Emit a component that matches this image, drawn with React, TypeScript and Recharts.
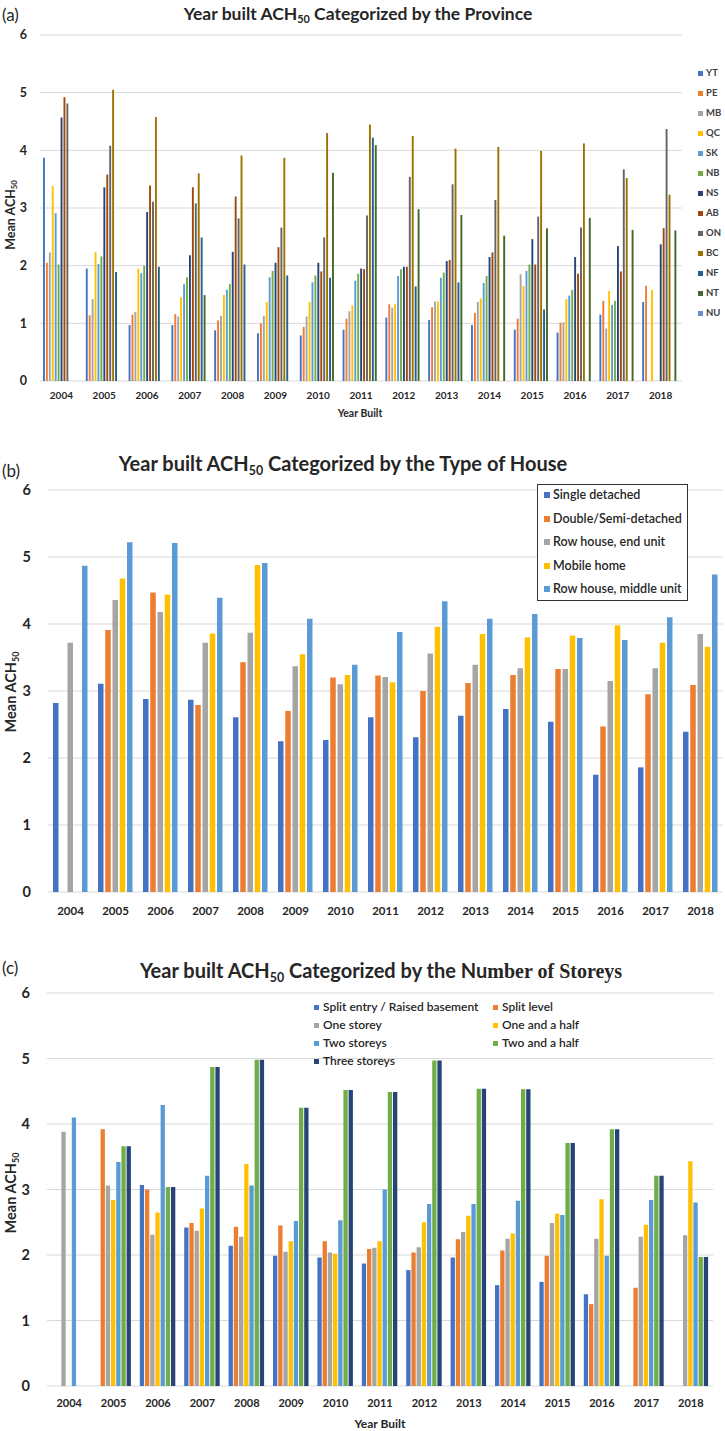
import React from "react";
import { Bar, BarChart, CartesianGrid, XAxis, YAxis } from "recharts";

// ---------- shared ----------
const years = ["2004", "2005", "2006", "2007", "2008", "2009", "2010", "2011", "2012", "2013", "2014", "2015", "2016", "2017", "2018"];
const yTicks = [0, 1, 2, 3, 4, 5, 6];

// ---------- (a) by province ----------
const YT = [3.87, 1.95, 0.97, 0.97, 0.88, 0.83, 0.79, 0.89, 1.1, 1.06, 0.97, 0.89, 0.84, 1.15, 1.37];
const PE = [2.05, 1.14, 1.15, 1.16, 1.05, 1.0, 0.94, 1.08, 1.33, 1.28, 1.18, 1.08, 1.01, 1.39, 1.65];
const MB = [2.23, 1.42, 1.2, 1.12, 1.13, 1.13, 1.12, 1.21, 1.27, 1.38, 1.37, 1.85, 1.02, 0.91, null];
const QC = [3.38, 2.24, 1.95, 1.45, 1.49, 1.37, 1.37, 1.31, 1.33, 1.38, 1.43, 1.65, 1.42, 1.56, 1.58];
const SK = [2.91, 2.03, 1.87, 1.68, 1.58, 1.8, 1.71, 1.74, 1.82, 1.79, 1.7, 1.91, 1.48, 1.32, null];
const NB = [2.02, 2.16, 2.0, 1.8, 1.68, 1.91, 1.83, 1.86, 1.94, 1.88, 1.82, 2.02, 1.58, 1.39, null];
const NS = [4.57, 3.36, 2.93, 2.18, 2.24, 2.05, 2.05, 1.95, 1.98, 2.08, 2.15, 2.46, 2.15, 2.34, 2.37];
const AB = [4.92, 3.58, 3.39, 3.36, 3.2, 2.32, 1.9, 1.94, 1.98, 2.1, 2.23, 2.02, 1.86, 1.9, 2.65];
const ON = [4.81, 4.08, 3.11, 3.08, 2.82, 2.66, 2.49, 2.87, 3.54, 3.41, 3.14, 2.85, 2.66, 3.67, 4.37];
const BC = [null, 5.05, 4.58, 3.6, 3.91, 3.87, 4.3, 4.45, 4.25, 4.03, 4.06, 3.99, 4.12, 3.52, 3.23];
const NF = [null, 1.89, 1.98, 2.49, 2.02, 1.83, 1.79, 4.22, 1.64, 1.71, null, 1.24, null, null, null];
const NT = [null, null, null, 1.49, null, null, 3.61, 4.09, 2.98, 2.88, 2.52, 2.65, 2.83, 2.62, 2.61];
const NU = [null, null, null, null, null, null, null, null, null, null, null, null, null, null, null];

const provinceNames = ["YT", "PE", "MB", "QC", "SK", "NB", "NS", "AB", "ON", "BC", "NF", "NT", "NU"];
const provinceValues = [YT, PE, MB, QC, SK, NB, NS, AB, ON, BC, NF, NT, NU];
const provinceColors = ["#4472C4", "#ED7D31", "#A5A5A5", "#FFC000", "#5B9BD5", "#70AD47", "#264478", "#9E480E", "#636363", "#997300", "#255E91", "#43682B", "#698ED0"];

// ---------- (b) by type of house ----------
const singleDetached = [2.82, 3.11, 2.88, 2.87, 2.61, 2.25, 2.27, 2.61, 2.31, 2.63, 2.73, 2.54, 1.75, 1.86, 2.39];
const doubleSemi = [null, 3.91, 4.47, 2.79, 3.43, 2.7, 3.2, 3.23, 3.0, 3.12, 3.24, 3.33, 2.47, 2.95, 3.09];
const rowEnd = [3.72, 4.36, 4.18, 3.72, 3.87, 3.37, 3.1, 3.21, 3.56, 3.39, 3.34, 3.33, 3.15, 3.34, 3.85];
const mobileHome = [null, 4.68, 4.44, 3.86, 4.88, 3.55, 3.24, 3.13, 3.96, 3.85, 3.8, 3.83, 3.98, 3.72, 3.66];
const rowMiddle = [4.87, 5.22, 5.21, 4.39, 4.91, 4.08, 3.39, 3.88, 4.34, 4.08, 4.15, 3.79, 3.76, 4.1, 4.74];

const houseNames = ["Single detached", "Double/Semi-detached", "Row house, end unit", "Mobile home", "Row house, middle unit"];
const houseValues = [singleDetached, doubleSemi, rowEnd, mobileHome, rowMiddle];
const houseColors = ["#4472C4", "#ED7D31", "#A5A5A5", "#FFC000", "#5B9BD5"];

// ---------- (c) by number of storeys ----------
const splitEntry = [null, null, 3.07, 2.42, 2.14, 1.99, 1.96, 1.87, 1.77, 1.96, 1.54, 1.59, 1.4, null, null];
const splitLevel = [null, 3.92, 3.0, 2.49, 2.43, 2.45, 2.21, 2.09, 2.04, 2.24, 2.07, 1.99, 1.25, 1.5, null];
const oneStorey = [3.88, 3.06, 2.31, 2.37, 2.28, 2.05, 2.04, 2.11, 2.12, 2.35, 2.25, 2.49, 2.25, 2.28, 2.3];
const oneAndHalf = [null, 2.84, 2.65, 2.71, 3.39, 2.21, 2.02, 2.21, 2.5, 2.6, 2.33, 2.63, 2.85, 2.46, 3.43];
const twoStoreys = [4.1, 3.42, 4.29, 3.21, 3.06, 2.52, 2.53, 3.0, 2.78, 2.78, 2.83, 2.61, 1.99, 2.84, 2.8];
const twoAndHalf = [null, 3.66, 3.04, 4.87, 4.98, 4.25, 4.52, 4.49, 4.97, 4.54, 4.53, 3.71, 3.92, 3.21, 1.97];
const threeStoreys = [null, 3.66, 3.04, 4.87, 4.98, 4.25, 4.52, 4.49, 4.97, 4.54, 4.53, 3.71, 3.92, 3.21, 1.97];

const storeyNames = ["Split entry / Raised basement", "Split level", "One storey", "One and a half", "Two storeys", "Two and a half", "Three storeys"];
const storeyValues = [splitEntry, splitLevel, oneStorey, oneAndHalf, twoStoreys, twoAndHalf, threeStoreys];
const storeyColors = ["#4472C4", "#ED7D31", "#A5A5A5", "#FFC000", "#5B9BD5", "#70AD47", "#264478"];

function toRows(names: string[], values: (number | null)[][]) {
  return years.map((year, i) => {
    const row: Record<string, string | number | null> = { year };
    names.forEach((n, k) => {
      row[n] = values[k][i];
    });
    return row;
  });
}

const provinceData = toRows(provinceNames, provinceValues);
const houseData = toRows(houseNames, houseValues);
const storeyData = toRows(storeyNames, storeyValues);

const FONT = "Lato, 'Liberation Sans', sans-serif";
const INK = "#262626";

function Txt({ x, y, size, weight = 700, anchor = "center", children, style }: any) {
  const tx = anchor === "center" ? "-50%" : "0";
  return (
    <div
      style={{
        position: "absolute",
        left: x,
        top: y,
        transform: `translate(${tx}, -50%)`,
        fontSize: size,
        fontWeight: weight,
        color: INK,
        whiteSpace: "nowrap",
        lineHeight: 1,
        ...style,
      }}
    >
      {children}
    </div>
  );
}

function Sub({ children }: any) {
  return <span style={{ fontSize: "0.62em", position: "relative", top: "0.3em" }}>{children}</span>;
}

function YLabel({ x, y, size }: any) {
  return (
    <div
      style={{
        position: "absolute",
        left: x,
        top: y,
        transform: "translate(-50%, -50%) rotate(-90deg)",
        fontSize: size,
        fontWeight: 700,
        color: INK,
        whiteSpace: "nowrap",
        lineHeight: 1,
      }}
    >
      Mean ACH<Sub>50</Sub>
    </div>
  );
}

function Swatch({ x, y, size, color }: any) {
  return (
    <div
      style={{
        position: "absolute",
        left: x,
        top: y - size / 2,
        width: size,
        height: size,
        background: color,
      }}
    />
  );
}

export default function App() {
  const tickStyle = (size: number) => ({ fontSize: size, fontWeight: 700, fill: INK, fontFamily: FONT });

  return (
    <div
      style={{
        position: "absolute",
        left: 0,
        top: 0,
        width: 725,
        height: 1431,
        background: "#fff",
        overflow: "hidden",
        fontFamily: FONT,
      }}
    >
      {/* ---------------- (a) ---------------- */}
      <div style={{ position: "absolute", left: 0, top: 0, width: 725, height: 460 }}>
        <BarChart
          width={725}
          height={460}
          data={provinceData}
          margin={{ top: 35, right: 43, left: 10, bottom: 59 }}
          barSize={1.9}
          barGap={1.03}
        >
          <CartesianGrid vertical={false} stroke="#d9d9d9" />
          <XAxis
            dataKey="year"
            interval={0}
            height={20}
            tickLine={false}
            axisLine={false}
            tickSize={0}
            tickMargin={11}
            tick={tickStyle(10)}
          />
          <YAxis
            domain={[0, 6]}
            ticks={yTicks}
            width={30}
            tickLine={false}
            axisLine={false}
            tickSize={0}
            tickMargin={13}
            tick={tickStyle(12.5)}
          />
          {provinceNames.map((n, i) => (
            <Bar key={n} dataKey={n} fill={provinceColors[i]} isAnimationActive={false} />
          ))}
        </BarChart>
        <Txt x={2} y={14} size={17} weight={400} anchor="left">(a)</Txt>
        <Txt x={358} y={14} size={17.5}>
          Year built ACH<Sub>50</Sub> Categorized by the Province
        </Txt>
        <YLabel x={11} y={215} size={12.5} />
        <Txt x={360} y={413} size={10.5}>Year Built</Txt>
        {provinceNames.map((n, i) => (
          <React.Fragment key={n}>
            <Swatch x={698} y={73 + i * 20} size={5} color={provinceColors[i]} />
            <Txt x={706} y={73 + i * 20} size={9.5} anchor="left" style={{ color: "#404040" }}>
              {n}
            </Txt>
          </React.Fragment>
        ))}
      </div>

      {/* ---------------- (b) ---------------- */}
      <div style={{ position: "absolute", left: 0, top: 460, width: 725, height: 465 }}>
        <BarChart
          width={725}
          height={465}
          data={houseData}
          margin={{ top: 30, right: 2, left: 10, bottom: 13 }}
          barSize={5.5}
          barGap={1.75}
        >
          <CartesianGrid vertical={false} stroke="#d9d9d9" />
          <XAxis
            dataKey="year"
            interval={0}
            height={20}
            tickLine={false}
            axisLine={false}
            tickSize={0}
            tickMargin={15}
            tick={tickStyle(11.5)}
          />
          <YAxis
            domain={[0, 6]}
            ticks={yTicks}
            width={38}
            tickLine={false}
            axisLine={false}
            tickSize={0}
            tickMargin={17}
            tick={tickStyle(14.5)}
          />
          {houseNames.map((n, i) => (
            <Bar key={n} dataKey={n} fill={houseColors[i]} isAnimationActive={false} />
          ))}
        </BarChart>
        <Txt x={2} y={10} size={17} weight={400} anchor="left">(b)</Txt>
        <Txt x={343} y={3} size={20}>
          Year built ACH<Sub>50</Sub> Categorized by the Type of House
        </Txt>
        <YLabel x={11} y={232} size={14.5} />
        <div
          style={{
            position: "absolute",
            left: 537,
            top: 24,
            width: 151,
            height: 117,
            border: "1px solid #333",
            background: "#fff",
            boxSizing: "border-box",
          }}
        />
        {houseNames.map((n, i) => (
          <React.Fragment key={n}>
            <Swatch x={544} y={35 + i * 23.5} size={6} color={houseColors[i]} />
            <Txt x={553} y={35 + i * 23.5} size={12.5} weight={600} anchor="left">
              {n}
            </Txt>
          </React.Fragment>
        ))}
      </div>

      {/* ---------------- (c) ---------------- */}
      <div style={{ position: "absolute", left: 0, top: 925, width: 725, height: 506 }}>
        <BarChart
          width={725}
          height={506}
          data={storeyData}
          margin={{ top: 68, right: 12, left: 10, bottom: 25 }}
          barSize={4.3}
          barGap={0.9}
        >
          <CartesianGrid vertical={false} stroke="#d9d9d9" />
          <XAxis
            dataKey="year"
            interval={0}
            height={20}
            tickLine={false}
            axisLine={false}
            tickSize={0}
            tickMargin={13.5}
            tick={tickStyle(11)}
          />
          <YAxis
            domain={[0, 6]}
            ticks={yTicks}
            width={37}
            tickLine={false}
            axisLine={false}
            tickSize={0}
            tickMargin={17}
            tick={tickStyle(14.5)}
          />
          {storeyNames.map((n, i) => (
            <Bar key={n} dataKey={n} fill={storeyColors[i]} isAnimationActive={false} />
          ))}
        </BarChart>
        <Txt x={2} y={42} size={17} weight={400} anchor="left">(c)</Txt>
        <Txt x={381} y={45} size={20}>
          Year built ACH<Sub>50</Sub> Categorized by the Nu
          <span style={{ fontFamily: "'Liberation Serif', serif" }}>mber of Storeys</span>
        </Txt>
        <YLabel x={11} y={268} size={14.5} />
        <Txt x={380} y={499} size={12}>Year Built</Txt>
        {storeyNames.map((n, i) => {
          const col = i % 2;
          const row = Math.floor(i / 2);
          const sx = col === 0 ? 314 : 493;
          const yy = 82 + row * 18;
          return (
            <React.Fragment key={n}>
              <Swatch x={sx} y={yy} size={5} color={storeyColors[i]} />
              <Txt x={sx + 9} y={yy} size={12} weight={600} anchor="left">
                {n}
              </Txt>
            </React.Fragment>
          );
        })}
      </div>
    </div>
  );
}
